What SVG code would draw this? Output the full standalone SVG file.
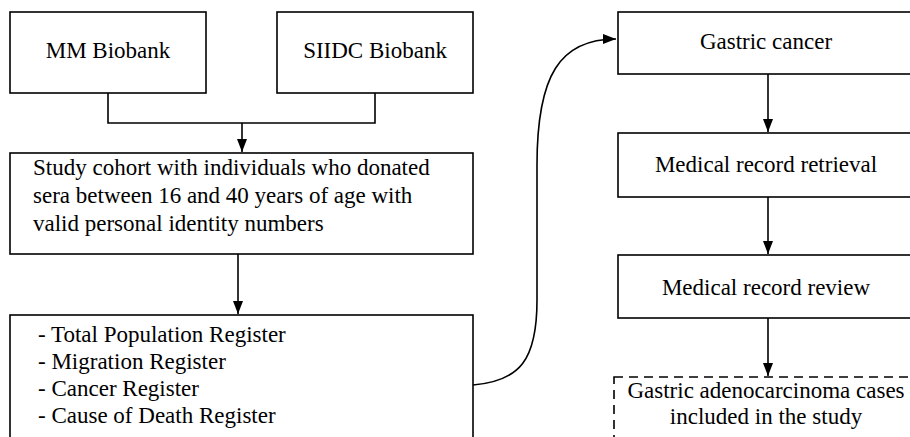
<svg xmlns="http://www.w3.org/2000/svg" width="910" height="437" viewBox="0 0 910 437" font-family="Liberation Serif, serif" font-size="23">
<defs>
<marker id="ah" markerUnits="userSpaceOnUse" markerWidth="14" markerHeight="12" refX="13" refY="6" orient="auto">
<path d="M0,1 L13,6 L0,11 Z" fill="#000"/>
</marker>
</defs>
<rect width="910" height="437" fill="#fff"/>
<g id="connectors" fill="none" stroke="#000" stroke-width="1.6">
<path d="M108,93 V123 H375 V93"/>
<path d="M242,123 V152" marker-end="url(#ah)"/>
<path d="M238,254 V314" marker-end="url(#ah)"/>
<path d="M473,385 C520,381 537,360 537,300 L537,165 C537,75 560,39 616,39" marker-end="url(#ah)"/>
<path d="M768,74 V132" marker-end="url(#ah)"/>
<path d="M768,197 V254" marker-end="url(#ah)"/>
<path d="M768,318 V376" marker-end="url(#ah)"/>
</g>
<g id="mm">
<rect x="10" y="12" width="196" height="81" fill="#fff" stroke="#000" stroke-width="1.6"/>
<text x="108" y="58" font-family="Liberation Serif, serif" font-size="23" text-anchor="middle">MM Biobank</text>
</g>
<g id="siidc">
<rect x="277" y="12" width="196" height="81" fill="#fff" stroke="#000" stroke-width="1.6"/>
<text x="375" y="58" font-family="Liberation Serif, serif" font-size="23" text-anchor="middle">SIIDC Biobank</text>
</g>
<g id="cohort">
<rect x="10" y="153" width="463" height="101" fill="#fff" stroke="#000" stroke-width="1.6"/>
<text x="33" y="175" font-family="Liberation Serif, serif" font-size="23">Study cohort with individuals who donated</text>
<text x="33" y="203" font-family="Liberation Serif, serif" font-size="23">sera between 16 and 40 years of age with</text>
<text x="33" y="231" font-family="Liberation Serif, serif" font-size="23">valid personal identity numbers</text>
</g>
<g id="registers">
<rect x="10" y="315" width="463" height="140" fill="#fff" stroke="#000" stroke-width="1.6"/>
<text x="38" y="342" font-family="Liberation Serif, serif" font-size="23">- Total Population Register</text>
<text x="38" y="369" font-family="Liberation Serif, serif" font-size="23">- Migration Register</text>
<text x="38" y="396" font-family="Liberation Serif, serif" font-size="23">- Cancer Register</text>
<text x="38" y="423" font-family="Liberation Serif, serif" font-size="23">- Cause of Death Register</text>
</g>
<g id="gastric">
<rect x="618" y="12" width="300" height="62" fill="#fff" stroke="#000" stroke-width="1.6"/>
<text x="766" y="49" font-family="Liberation Serif, serif" font-size="23" text-anchor="middle">Gastric cancer</text>
</g>
<g id="retrieval">
<rect x="618" y="133" width="300" height="64" fill="#fff" stroke="#000" stroke-width="1.6"/>
<text x="766" y="172" font-family="Liberation Serif, serif" font-size="23" text-anchor="middle">Medical record retrieval</text>
</g>
<g id="review">
<rect x="618" y="255" width="300" height="63" fill="#fff" stroke="#000" stroke-width="1.6"/>
<text x="766" y="295" font-family="Liberation Serif, serif" font-size="23" text-anchor="middle">Medical record review</text>
</g>
<g id="cases">
<rect x="614" y="377" width="306" height="80" fill="#fff" stroke="#000" stroke-width="1.6" stroke-dasharray="9,6"/>
<text x="766" y="398" font-family="Liberation Serif, serif" font-size="23" text-anchor="middle">Gastric adenocarcinoma cases</text>
<text x="766" y="424" font-family="Liberation Serif, serif" font-size="23" text-anchor="middle">included in the study</text>
</g>
</svg>
